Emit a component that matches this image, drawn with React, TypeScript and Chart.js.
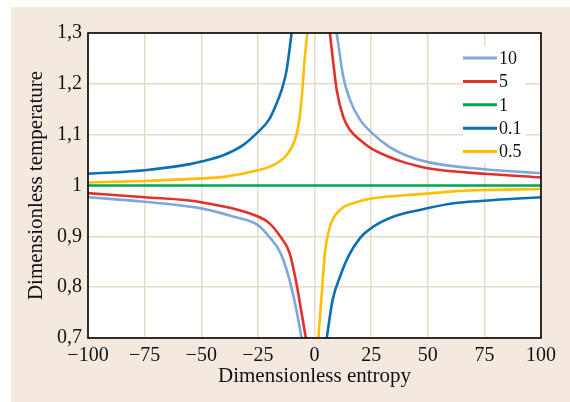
import React, { useEffect, useRef } from "react";
import { Chart, registerables } from "chart.js";

Chart.register(...registerables);

// Legend labels and colours
const seriesLabels = ["10", "5", "1", "0.1", "0.5"];
const seriesColors = ["#7ea8da", "#e0312a", "#00a651", "#0b6fb3", "#ffbe00"];

// Axis ticks
const xTickValues = [-100, -75, -50, -25, 0, 25, 50, 75, 100];
const yTickValues = [0.7, 0.8, 0.9, 1.0, 1.1, 1.2, 1.3];

// Series "10" (two branches)
const s10LeftX = [-100, -75, -50, -36, -25, -20, -15, -11, -8, -5.7];
const s10LeftY = [0.977, 0.968, 0.955, 0.939, 0.922, 0.899, 0.867, 0.814, 0.755, 0.7];
const s10RightX = [9.8, 12.7, 15.7, 20, 25, 33, 40, 50, 75, 100];
const s10RightY = [1.3, 1.214, 1.168, 1.13, 1.105, 1.076, 1.06, 1.046, 1.032, 1.024];

// Series "5"
const s5LeftX = [-100, -75, -50, -25, -20, -15, -11, -8, -5.7, -3.8];
const s5LeftY = [0.985, 0.977, 0.967, 0.939, 0.926, 0.899, 0.867, 0.808, 0.749, 0.7];
const s5RightX = [6.8, 8.3, 9.8, 12.7, 15.7, 20, 25, 33, 40, 50, 75, 100];
const s5RightY = [1.3, 1.241, 1.188, 1.135, 1.109, 1.09, 1.073, 1.056, 1.045, 1.034, 1.023, 1.016];

// Series "1"
const s1X = [-100, 0, 100];
const s1Y = [1.0, 1.0, 1.0];

// Series "0.1"
const s01LeftX = [-100, -75, -55, -50, -40, -31.4, -25, -20, -16.7, -14.5, -12.3, -10.1];
const s01LeftY = [1.023, 1.03, 1.042, 1.047, 1.06, 1.08, 1.105, 1.13, 1.162, 1.188, 1.227, 1.3];
const s01RightX = [5.4, 8, 11.3, 14.9, 20, 26, 35, 46.6, 60, 75, 100];
const s01RightY = [0.7, 0.775, 0.821, 0.86, 0.896, 0.919, 0.939, 0.952, 0.964, 0.97, 0.977];

// Series "0.5"
const s05LeftX = [-100, -75, -50, -40, -25, -18.2, -12.3, -8.6, -6.7, -5.5, -4.5, -3.2];
const s05LeftY = [1.006, 1.009, 1.014, 1.017, 1.03, 1.04, 1.06, 1.09, 1.129, 1.18, 1.24, 1.3];
const s05RightX = [1.7, 3.2, 4.6, 6.8, 11.3, 17, 26, 46.6, 60, 75, 100];
const s05RightY = [0.7, 0.788, 0.867, 0.919, 0.952, 0.965, 0.975, 0.983, 0.988, 0.991, 0.993];

const FONT = "'Liberation Serif', 'Times New Roman', serif";

function pts(xs: number[], ys: number[]) {
  return xs.map((x, i) => ({ x, y: ys[i] }));
}
function branches(lx: number[], ly: number[], rx: number[], ry: number[]) {
  return [...pts(lx, ly), { x: (lx[lx.length - 1] + rx[0]) / 2, y: null as any }, ...pts(rx, ry)];
}

const seriesData = [
  branches(s10LeftX, s10LeftY, s10RightX, s10RightY),
  branches(s5LeftX, s5LeftY, s5RightX, s5RightY),
  pts(s1X, s1Y),
  branches(s01LeftX, s01LeftY, s01RightX, s01RightY),
  branches(s05LeftX, s05LeftY, s05RightX, s05RightY),
];

const bgPlugin = {
  id: "bgPlugin",
  beforeDraw(chart: any) {
    const { ctx, chartArea: a } = chart;
    ctx.save();
    ctx.fillStyle = "#f3e9de";
    ctx.fillRect(0, 0, chart.width, chart.height);
    ctx.fillStyle = "#ffffff";
    ctx.fillRect(a.left, a.top, a.right - a.left, a.bottom - a.top);
    ctx.restore();
  },
};

const frameLegendPlugin = {
  id: "frameLegendPlugin",
  afterDatasetsDraw(chart: any) {
    const { ctx, chartArea: a } = chart;
    ctx.save();
    // legend box
    const lx = a.left + 375;
    const ly = a.top + 13;
    ctx.fillStyle = "#ffffff";
    ctx.fillRect(lx, ly, 62, 117);
    ctx.font = `18px ${FONT}`;
    ctx.textBaseline = "middle";
    ctx.textAlign = "left";
    seriesLabels.forEach((lab, i) => {
      const y = a.top + 25 + i * 23.4;
      ctx.strokeStyle = seriesColors[i];
      ctx.lineWidth = 3;
      ctx.beginPath();
      ctx.moveTo(lx, y);
      ctx.lineTo(lx + 34, y);
      ctx.stroke();
      ctx.fillStyle = "#111111";
      ctx.fillText(lab, lx + 36, y + 1);
    });
    // frame
    ctx.strokeStyle = "#000000";
    ctx.lineWidth = 1.6;
    ctx.strokeRect(a.left, a.top, a.right - a.left, a.bottom - a.top);
    ctx.restore();
  },
};

export default function App() {
  const ref = useRef<HTMLCanvasElement | null>(null);
  useEffect(() => {
    if (!ref.current) return;
    const chart = new Chart(ref.current, {
      type: "line",
      data: {
        datasets: seriesData.map((d, i) => ({
          label: seriesLabels[i],
          data: d as any,
          borderColor: seriesColors[i],
          backgroundColor: seriesColors[i],
          borderWidth: 2.6,
          pointRadius: 0,
          fill: false,
          cubicInterpolationMode: "monotone" as const,
          spanGaps: false,
        })),
      },
      options: {
        animation: false,
        responsive: false,
        layout: { padding: { left: 0, right: 29, top: 26, bottom: 0 } },
        plugins: { legend: { display: false }, tooltip: { enabled: false } },
        scales: {
          x: {
            type: "linear",
            min: -100,
            max: 100,
            afterBuildTicks: (s: any) => {
              s.ticks = xTickValues.map((v) => ({ value: v }));
            },
            afterFit: (s: any) => {
              s.height = 64;
            },
            grid: { color: "#e8dac8", lineWidth: 1.5, drawTicks: false },
            border: { display: false },
            ticks: {
              font: { family: FONT, size: 20 },
              color: "#111111",
              padding: 6,
              maxRotation: 0,
              autoSkip: false,
              callback: (v: any) => (Number(v) < 0 ? "\u2212" + Math.abs(Number(v)) : String(v)),
            },
            title: {
              display: true,
              text: "Dimensionless entropy",
              font: { family: FONT, size: 21 },
              color: "#111111",
              padding: { top: 0, bottom: 13 },
            },
          },
          y: {
            type: "linear",
            min: 0.7,
            max: 1.3,
            afterBuildTicks: (s: any) => {
              s.ticks = yTickValues.map((v) => ({ value: v }));
            },
            afterFit: (s: any) => {
              s.width = 77;
            },
            grid: { color: "#e8dac8", lineWidth: 1.5, drawTicks: false },
            border: { display: false },
            ticks: {
              font: { family: FONT, size: 20 },
              color: "#111111",
              padding: 6,
              autoSkip: false,
              callback: (v: any) => {
                const n = Number(v);
                if (Math.abs(n - 1) < 1e-9) return "1";
                return n.toFixed(1).replace(".", ",");
              },
            },
            title: {
              display: true,
              text: "Dimensionless temperature",
              font: { family: FONT, size: 21 },
              color: "#111111",
              padding: { top: 13, bottom: 0 },
            },
          },
        },
      },
      plugins: [bgPlugin, frameLegendPlugin],
    });
    return () => chart.destroy();
  }, []);
  return (
    <div style={{ position: "fixed", left: 0, top: 0, width: 570, height: 402, background: "#ffffff" }}>
      <canvas
        ref={ref}
        width={559}
        height={395}
        style={{ position: "absolute", left: 11, top: 7, width: 559, height: 395 }}
      />
    </div>
  );
}
